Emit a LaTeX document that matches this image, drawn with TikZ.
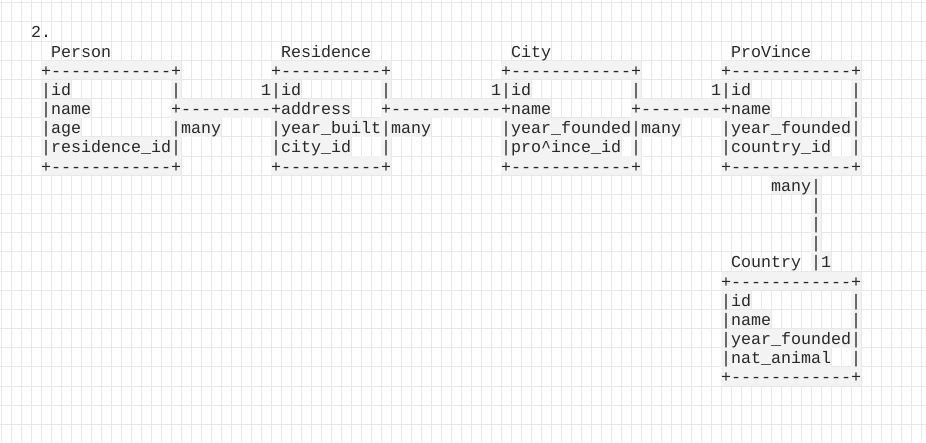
\documentclass[tikz,border=0pt]{standalone}
\usepackage{fontspec}
\setmonofont{Liberation Mono}
\usepackage{xcolor}
\usepackage{tikz}

\definecolor{gridgray}{RGB}{232,232,232}
\definecolor{cellgray}{RGB}{243,243,243}
\definecolor{inkgray}{RGB}{40,40,40}

\begin{document}
\begin{tikzpicture}[x=1pt, y=-1pt,
    gridline/.style={draw=gridgray, line width=1pt},
    title/.style={font=\ttfamily\fontsize{16.67}{19}\selectfont, text=inkgray, inner sep=0pt, anchor=base west},
    cell/.style={title, fill=cellgray, text height=15.6pt, text depth=3pt}]

    \useasboundingbox[fill=white] (0,0) rectangle (926,442);

    % character grid
    \foreach \k in {0,...,92}
        \draw [gridline] (1+10*\k,0) -- (1+10*\k,442);
    \foreach \k in {0,...,23}
        \draw [gridline] (0,2.7+19.17*\k) -- (926,2.7+19.17*\k);

    % titles (col/row/text/name)
    \foreach \c/\r/\s/\n in {3/0/{2.}/num, 5/1/{Person}/person, 28/1/{Residence}/residence,
        51/1/{City}/city, 73/1/{ProVince}/province, 73/12/{Country}/country}
        \node [title] (\n) at (1+10*\c, 37.9+19.17*\r) {\s};

    % table rows (col/row/text)
    \foreach \c/\r/\s [count=\i] in {
        4/2/{+------------+}, 27/2/{+----------+}, 50/2/{+------------+}, 72/2/{+------------+},
        4/3/{|id}, 17/3/{|}, 26/3/{1|id}, 38/3/{|}, 49/3/{1|id}, 63/3/{|}, 71/3/{1|id}, 85/3/{|},
        4/4/{|name}, 17/4/{+---------+address}, 38/4/{+-----------+name}, 63/4/{+--------+name}, 85/4/{|},
        4/5/{|age}, 17/5/{|many}, 27/5/{|year\_built|many}, 50/5/{|year\_founded|many}, 72/5/{|year\_founded|},
        4/6/{|residence\_id|}, 27/6/{|city\_id}, 38/6/{|}, 50/6/{|pro\textasciicircum ince\_id}, 63/6/{|},
        72/6/{|country\_id}, 85/6/{|},
        4/7/{+------------+}, 27/7/{+----------+}, 50/7/{+------------+}, 72/7/{+------------+},
        77/8/{many|}, 81/9/{|}, 81/10/{|}, 81/11/{|}, 81/12/{|1},
        72/13/{+------------+},
        72/14/{|id}, 85/14/{|},
        72/15/{|name}, 85/15/{|},
        72/16/{|year\_founded|},
        72/17/{|nat\_animal}, 85/17/{|},
        72/18/{+------------+}}
        \node [cell] (run\i) at (1+10*\c, 37.9+19.17*\r) {\s};
\end{tikzpicture}
\end{document}
